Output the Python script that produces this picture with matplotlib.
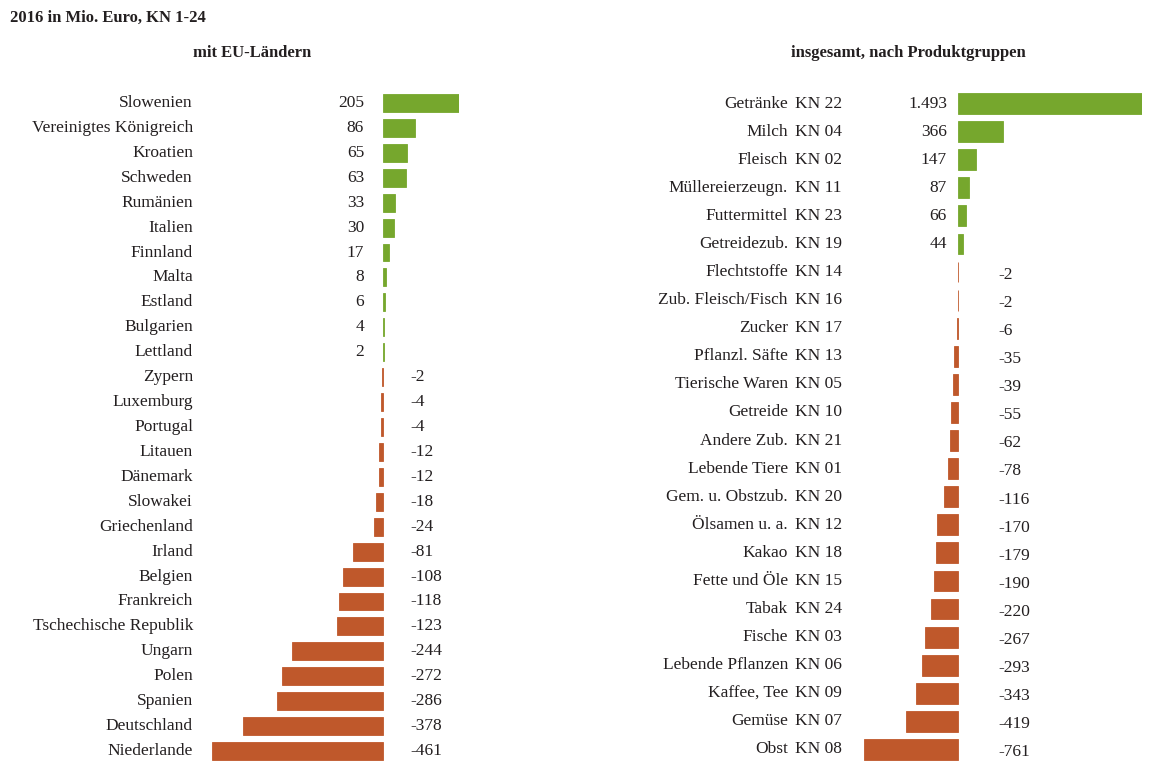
import matplotlib.pyplot as plt
from matplotlib.transforms import blended_transform_factory

countries = ["Slowenien", "Vereinigtes Königreich", "Kroatien", "Schweden", "Rumänien",
             "Italien", "Finnland", "Malta", "Estland", "Bulgarien", "Lettland", "Zypern",
             "Luxemburg", "Portugal", "Litauen", "Dänemark", "Slowakei", "Griechenland",
             "Irland", "Belgien", "Frankreich", "Tschechische Republik", "Ungarn", "Polen",
             "Spanien", "Deutschland", "Niederlande"]
country_vals = [205, 86, 65, 63, 33, 30, 17, 8, 6, 4, 2, -2, -4, -4, -12, -12, -18, -24,
                -81, -108, -118, -123, -244, -272, -286, -378, -461]

groups = ["Getränke", "Milch", "Fleisch", "Müllereierzeugn.", "Futtermittel", "Getreidezub.",
          "Flechtstoffe", "Zub. Fleisch/Fisch", "Zucker", "Pflanzl. Säfte", "Tierische Waren",
          "Getreide", "Andere Zub.", "Lebende Tiere", "Gem. u. Obstzub.", "Ölsamen u. a.",
          "Kakao", "Fette und Öle", "Tabak", "Fische", "Lebende Pflanzen", "Kaffee, Tee",
          "Gemüse", "Obst"]
codes = ["KN 22", "KN 04", "KN 02", "KN 11", "KN 23", "KN 19", "KN 14", "KN 16", "KN 17",
         "KN 13", "KN 05", "KN 10", "KN 21", "KN 01", "KN 20", "KN 12", "KN 18", "KN 15",
         "KN 24", "KN 03", "KN 06", "KN 09", "KN 07", "KN 08"]
group_vals = [1493, 366, 147, 87, 66, 44, -2, -2, -6, -35, -39, -55, -62, -78, -116, -170,
              -179, -190, -220, -267, -293, -343, -419, -761]

GREEN = "#76a72d"
ORANGE = "#bf582b"
TXT = "#231f20"
W, H = 1166, 767

plt.rcParams['font.family'] = ['Liberation Serif', 'DejaVu Serif']
plt.rcParams['font.size'] = 12.5


def fmt(v):
    return f"{v:,}".replace(",", ".")


def px_ax(fig, x0, x1, y0, y1):
    # pixel box (top-left origin) -> axes
    return fig.add_axes([x0 / W, 1 - y1 / H, (x1 - x0) / W, (y1 - y0) / H])


fig = plt.figure(figsize=(W / 100, H / 100), dpi=100)

fig.text(10 / W, 1 - 18 / H, "2016 in Mio. Euro, KN 1-24", fontweight="bold",
         ha="left", va="center", color=TXT, fontsize=12)
fig.text(252 / W, 1 - 53 / H, "mit EU-Ländern", fontweight="bold",
         ha="center", va="center", color=TXT, fontsize=12)
fig.text(908 / W, 1 - 53 / H, "insgesamt, nach Produktgruppen", fontweight="bold",
         ha="center", va="center", color=TXT, fontsize=12)


def panel(ax, vals, hgt):
    n = len(vals)
    ys = list(range(n))
    cols = [GREEN if v > 0 else ORANGE for v in vals]
    ax.barh(ys, vals, height=hgt, color=cols, edgecolor=cols, linewidth=0.6)
    ax.set_xlim(min(vals), max(vals))
    ax.set_ylim(n - 0.5, -0.5)
    ax.axis("off")
    return ys


# left panel
axl = px_ax(fig, 212, 459, 90.5, 763.5)
ys = panel(axl, country_vals, 0.72)
tr = blended_transform_factory(fig.transFigure, axl.transData)
for y, name, v in zip(ys, countries, country_vals):
    axl.text(193 / W, y, name, transform=tr, ha="right", va="center", color=TXT)
    if v > 0:
        axl.text(364 / W, y, fmt(v), transform=tr, ha="right", va="center", color=TXT)
    else:
        axl.text(410 / W, y, fmt(v), transform=tr, ha="left", va="center", color=TXT)

# right panel
axr = px_ax(fig, 864, 1142, 89.5, 763.5)
ys = panel(axr, group_vals, 0.74)
tr = blended_transform_factory(fig.transFigure, axr.transData)
for y, name, code, v in zip(ys, groups, codes, group_vals):
    axr.text(788 / W, y, name, transform=tr, ha="right", va="center", color=TXT)
    axr.text(795 / W, y, code, transform=tr, ha="left", va="center", color=TXT)
    if v > 0:
        axr.text(947 / W, y, fmt(v), transform=tr, ha="right", va="center", color=TXT)
    else:
        axr.text(998 / W, y + 0.1, fmt(v), transform=tr, ha="left", va="center", color=TXT)

fig.savefig("out.png", dpi=100)
